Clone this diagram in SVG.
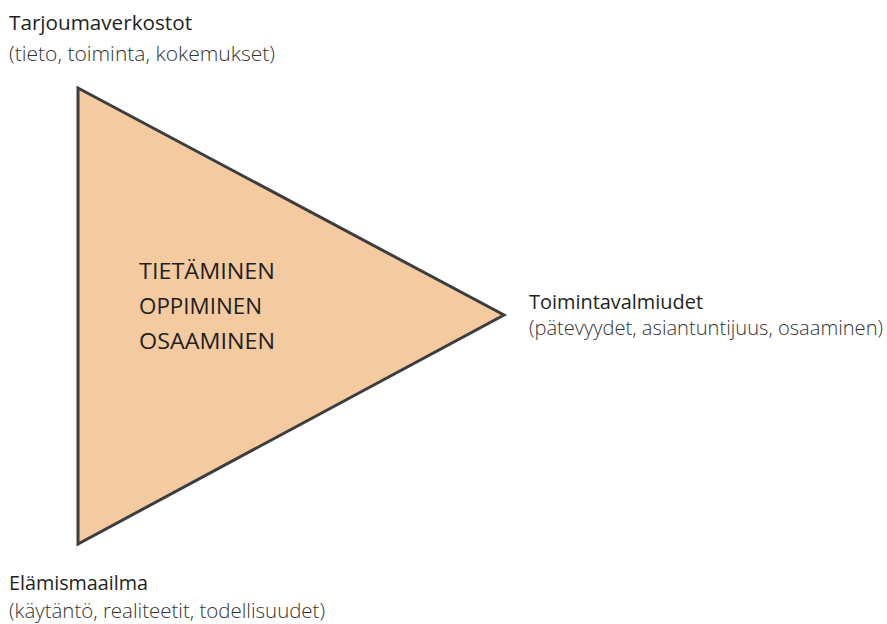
<svg xmlns="http://www.w3.org/2000/svg" width="887" height="624" viewBox="0 0 887 624">
  <style>
    .title { font-family: "Open Sans", "Lato", sans-serif; font-size: 20px; fill: #231f20; }
    .sub { font-family: "Open Sans", "Lato", sans-serif; font-size: 20px; fill: #333333; font-weight: 300; }
    .core { font-family: "Open Sans", "Lato", sans-serif; font-size: 21.5px; fill: #231f20; }
    .tri { fill: #f4cba0; stroke: #3d3d3d; stroke-width: 3; stroke-linejoin: miter; }
  </style>
  <rect width="887" height="624" fill="#ffffff"/>

  <!-- learning triangle with its three core activities -->
  <g id="triangle">
    <polygon class="tri" points="78,88 504,315 78,544"/>
    <text class="core" x="139" y="279" textLength="136" lengthAdjust="spacingAndGlyphs">TIETÄMINEN</text>
    <text class="core" x="139" y="314" textLength="123" lengthAdjust="spacingAndGlyphs">OPPIMINEN</text>
    <text class="core" x="139" y="349" textLength="136" lengthAdjust="spacingAndGlyphs">OSAAMINEN</text>
  </g>

  <!-- corner labels -->
  <g id="label-top">
    <text class="title" x="9" y="30" textLength="183" lengthAdjust="spacingAndGlyphs">Tarjoumaverkostot</text>
    <text class="sub" x="9" y="61" textLength="266" lengthAdjust="spacingAndGlyphs">(tieto, toiminta, kokemukset)</text>
  </g>
  <g id="label-right">
    <text class="title" x="529" y="309" textLength="174" lengthAdjust="spacingAndGlyphs">Toimintavalmiudet</text>
    <text class="sub" x="529" y="335" textLength="354" lengthAdjust="spacingAndGlyphs">(pätevyydet, asiantuntijuus, osaaminen)</text>
  </g>
  <g id="label-bottom">
    <text class="title" x="9" y="590" textLength="139" lengthAdjust="spacingAndGlyphs">Elämismaailma</text>
    <text class="sub" x="9" y="618" textLength="316" lengthAdjust="spacingAndGlyphs">(käytäntö, realiteetit, todellisuudet)</text>
  </g>

  <g id="connectors"/>
</svg>
